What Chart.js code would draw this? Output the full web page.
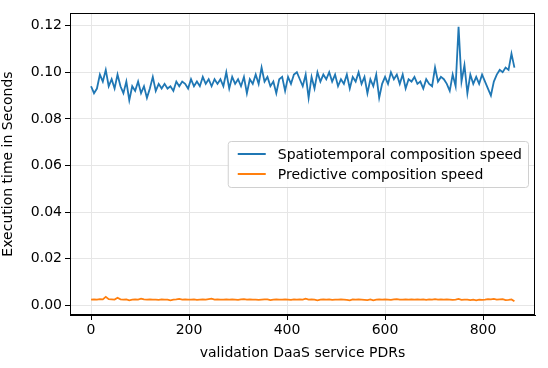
<!DOCTYPE html>
<html>
<head>
<meta charset="utf-8">
<script src="https://cdn.jsdelivr.net/npm/chart.js@4/dist/chart.umd.min.js"></script>
<style>
  html, body { margin: 0; padding: 0; background: #fff; overflow: hidden; }
  #wrap { width: 548px; height: 368px; }
  canvas { display: block; }
</style>
</head>
<body>
<div id="wrap"><canvas id="chart" width="548" height="368"></canvas></div>
<script>
// x positions (validation PDR index)
const pdrIndex = [];
for (let i = 0; i <= 864; i += 6) pdrIndex.push(i);

const spatioSpeed = [
  0.094, 0.091, 0.093, 0.099, 0.096, 0.101, 0.094, 0.097, 0.093, 0.099,
  0.094, 0.091, 0.096, 0.088, 0.094, 0.092, 0.096, 0.091, 0.094, 0.089,
  0.093, 0.098, 0.092, 0.095, 0.093, 0.095, 0.093, 0.094, 0.092, 0.096,
  0.094, 0.096, 0.095, 0.093, 0.097, 0.094, 0.096, 0.094, 0.098, 0.095,
  0.097, 0.094, 0.097, 0.095, 0.097, 0.094, 0.100, 0.093, 0.098, 0.095,
  0.097, 0.094, 0.098, 0.091, 0.097, 0.095, 0.099, 0.095, 0.102, 0.096,
  0.098, 0.094, 0.096, 0.091, 0.097, 0.098, 0.092, 0.098, 0.095, 0.099,
  0.100, 0.097, 0.094, 0.099, 0.089, 0.098, 0.093, 0.100, 0.096, 0.099,
  0.097, 0.100, 0.096, 0.099, 0.094, 0.097, 0.095, 0.099, 0.093, 0.098,
  0.096, 0.100, 0.095, 0.098, 0.091, 0.097, 0.094, 0.099, 0.089, 0.095,
  0.098, 0.095, 0.100, 0.097, 0.099, 0.095, 0.099, 0.093, 0.097, 0.096,
  0.098, 0.095, 0.096, 0.093, 0.097, 0.095, 0.094, 0.102, 0.096, 0.098,
  0.097, 0.095, 0.092, 0.099, 0.094, 0.1195, 0.096, 0.103, 0.091, 0.099,
  0.095, 0.098, 0.095, 0.099, 0.096, 0.093, 0.090, 0.096, 0.099, 0.101,
  0.100, 0.102, 0.101, 0.108, 0.102
];

const predictiveSpeed = [
  0.0025, 0.0026, 0.0025, 0.0027, 0.0026, 0.0037, 0.0027, 0.0026, 0.0025, 0.0033,
  0.0026, 0.0025, 0.0026, 0.0022, 0.0025, 0.0026, 0.0025, 0.0029, 0.0026, 0.0025,
  0.0026, 0.0025, 0.0025, 0.0024, 0.0026, 0.0025, 0.0025, 0.0022, 0.0025, 0.0026,
  0.0028, 0.0025, 0.0026, 0.0025, 0.0025, 0.0026, 0.0024, 0.0025, 0.0026, 0.0025,
  0.0027, 0.0029, 0.0025, 0.0026, 0.0025, 0.0025, 0.0026, 0.0025, 0.0026, 0.0025,
  0.0024, 0.0026, 0.0027, 0.0025, 0.0026, 0.0025, 0.0025, 0.0024, 0.0025, 0.0026,
  0.0026, 0.0023, 0.0025, 0.0026, 0.0025, 0.0025, 0.0026, 0.0025, 0.0024, 0.0026,
  0.0025, 0.0026, 0.0025, 0.0029, 0.0025, 0.0026, 0.0025, 0.0022, 0.0025, 0.0026,
  0.0025, 0.0026, 0.0024, 0.0025, 0.0025, 0.0026, 0.0025, 0.0024, 0.0022, 0.0026,
  0.0025, 0.0026, 0.0025, 0.0024, 0.0023, 0.0026, 0.0022, 0.0025, 0.0026, 0.0025,
  0.0026, 0.0025, 0.0024, 0.0026, 0.0027, 0.0025, 0.0025, 0.0026, 0.0025, 0.0026,
  0.0025, 0.0026, 0.0025, 0.0026, 0.0024, 0.0026, 0.0025, 0.0027, 0.0025, 0.0026,
  0.0025, 0.0026, 0.0025, 0.0024, 0.0025, 0.0028, 0.0024, 0.0025, 0.0025, 0.0023,
  0.0025, 0.0022, 0.0025, 0.0024, 0.0025, 0.0027, 0.0026, 0.0028, 0.0025, 0.0026,
  0.0027, 0.0023, 0.0024, 0.0026, 0.0018
];

const seriesNames = ['Spatiotemporal composition speed', 'Predictive composition speed'];
const xTickValues = [0, 200, 400, 600, 800];
const yTickValues = [0, 0.02, 0.04, 0.06, 0.08, 0.10, 0.12];

const FONT = 'DejaVu Sans';
const FSIZE = 14;

// full black frame + matplotlib style legend inside the plot
const framePlugin = {
  id: 'frame',
  afterDraw(chart) {
    const { ctx, chartArea: a } = chart;
    const l = Math.round(a.left), r = Math.round(a.right);
    const t = Math.round(a.top), b = Math.round(a.bottom);
    ctx.save();
    ctx.strokeStyle = '#000';
    ctx.lineWidth = 1;
    ctx.strokeRect(l + 0.5, t + 0.5, r - l - 1, b - t - 1);

    // legend box
    ctx.font = FSIZE + 'px "' + FONT + '"';
    const items = chart.data.datasets.map(d => ({ text: d.label, color: d.borderColor }));
    const textW = Math.max(...items.map(it => ctx.measureText(it.text).width));
    const boxW = textW + 56;
    const rowH = 20;
    const boxH = items.length * rowH + 6;
    const x0 = a.right - 7 - boxW;
    const y0 = (a.top + a.bottom) / 2 - boxH / 2;
    ctx.fillStyle = 'rgba(255,255,255,0.85)';
    ctx.strokeStyle = '#d0d0d0';
    ctx.beginPath();
    ctx.roundRect(x0 + 0.5, y0 + 0.5, boxW, boxH, 3);
    ctx.fill();
    ctx.stroke();
    items.forEach((it, i) => {
      const cy = y0 + 3 + rowH * i + rowH / 2;
      ctx.strokeStyle = it.color;
      ctx.lineWidth = 2;
      ctx.beginPath();
      ctx.moveTo(x0 + 10, cy);
      ctx.lineTo(x0 + 38, cy);
      ctx.stroke();
      ctx.fillStyle = '#000';
      ctx.textBaseline = 'middle';
      ctx.fillText(it.text, x0 + 50, cy + 1);
    });
    ctx.restore();
  }
};

new Chart(document.getElementById('chart').getContext('2d'), {
  type: 'line',
  data: {
    labels: pdrIndex,
    datasets: [
      {
        label: seriesNames[0],
        data: pdrIndex.map((x, i) => ({ x: x, y: spatioSpeed[i] })),
        borderColor: '#1f77b4',
        borderWidth: 1.8,
        pointRadius: 0,
        tension: 0,
      },
      {
        label: seriesNames[1],
        data: pdrIndex.map((x, i) => ({ x: x, y: predictiveSpeed[i] })),
        borderColor: '#ff7f0e',
        borderWidth: 1.8,
        pointRadius: 0,
        tension: 0,
      },
    ],
  },
  options: {
    responsive: false,
    animation: false,
    layout: { padding: { top: 13, right: 13, left: 0, bottom: 0 } },
    plugins: { legend: { display: false }, tooltip: { enabled: false } },
    scales: {
      x: {
        type: 'linear',
        min: -43,
        max: 906,
        afterBuildTicks: (s) => { s.ticks = xTickValues.map(v => ({ value: v })); },
        afterFit: (s) => { s.height = 53; },
        ticks: {
          color: '#000',
          font: { family: FONT, size: FSIZE },
          padding: 2,
          maxRotation: 0,
          callback: (v) => String(v),
        },
        grid: { color: '#e6e6e6', tickColor: '#000', tickLength: 5 },
        border: { display: true, color: '#000' },
        title: {
          display: true,
          text: 'validation DaaS service PDRs',
          color: '#000',
          font: { family: FONT, size: FSIZE },
          padding: { top: 0, bottom: 6 },
        },
      },
      y: {
        min: -0.0041,
        max: 0.1254,
        afterBuildTicks: (s) => { s.ticks = yTickValues.map(v => ({ value: v })); },
        afterFit: (s) => { s.width = 70; },
        ticks: {
          color: '#000',
          font: { family: FONT, size: FSIZE },
          padding: 3,
          callback: (v) => v.toFixed(2),
        },
        grid: { color: '#e6e6e6', tickColor: '#000', tickLength: 5 },
        border: { display: true, color: '#000' },
        title: {
          display: true,
          text: 'Execution time in Seconds',
          color: '#000',
          font: { family: FONT, size: FSIZE },
          padding: { top: 0, bottom: 0 },
        },
      },
    },
  },
  plugins: [framePlugin],
});
</script>
</body>
</html>
